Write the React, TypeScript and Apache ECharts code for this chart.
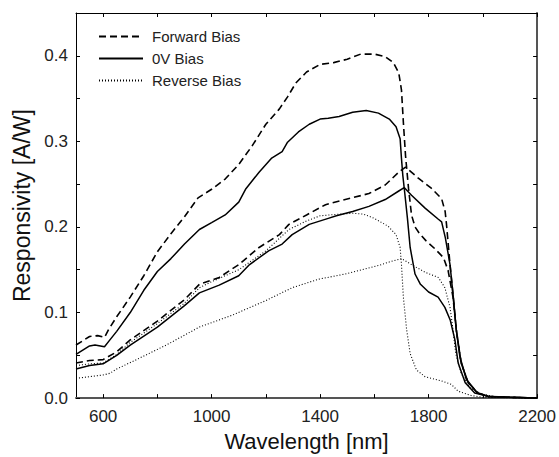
import React, { useEffect, useRef } from 'react';
import * as echarts from 'echarts';

// High-responsivity set
const hfWl = [500, 550, 580, 605, 620, 650, 700, 750, 800, 850, 900, 950, 1000, 1050, 1100, 1150, 1200, 1250, 1280, 1310, 1350, 1400, 1450, 1500, 1550, 1600, 1640, 1670, 1690, 1700, 1707, 1715, 1726, 1737, 1750, 1765, 1790, 1825, 1855, 1872, 1890, 1902, 1920, 1946, 1980, 2020, 2100, 2200];
const hfVal = [0.062, 0.072, 0.073, 0.071, 0.080, 0.095, 0.118, 0.143, 0.171, 0.192, 0.212, 0.234, 0.244, 0.256, 0.273, 0.295, 0.320, 0.338, 0.352, 0.368, 0.381, 0.390, 0.392, 0.396, 0.402, 0.402, 0.399, 0.392, 0.380, 0.360, 0.322, 0.283, 0.245, 0.214, 0.200, 0.193, 0.184, 0.174, 0.164, 0.149, 0.118, 0.080, 0.041, 0.018, 0.006, 0.002, 0.001, 0.0];

const hsWl = [500, 550, 570, 605, 625, 650, 700, 750, 800, 850, 900, 955, 1000, 1050, 1100, 1125, 1175, 1220, 1260, 1280, 1320, 1360, 1400, 1430, 1470, 1520, 1570, 1615, 1655, 1680, 1695, 1700, 1705, 1712, 1722, 1732, 1750, 1770, 1800, 1835, 1860, 1880, 1897, 1909, 1935, 1970, 2020, 2100, 2200];
const hsVal = [0.051, 0.061, 0.062, 0.060, 0.068, 0.078, 0.100, 0.126, 0.148, 0.163, 0.180, 0.197, 0.205, 0.214, 0.229, 0.244, 0.264, 0.280, 0.288, 0.299, 0.311, 0.320, 0.326, 0.327, 0.329, 0.334, 0.336, 0.333, 0.326, 0.317, 0.303, 0.280, 0.260, 0.240, 0.210, 0.176, 0.145, 0.133, 0.124, 0.118, 0.106, 0.091, 0.068, 0.041, 0.018, 0.006, 0.002, 0.001, 0.0];

const hrWl = [500, 550, 600, 650, 700, 800, 900, 955, 1000, 1100, 1200, 1285, 1350, 1400, 1470, 1520, 1560, 1600, 1650, 1680, 1695, 1700, 1707, 1719, 1732, 1755, 1787, 1848, 1884, 1909, 1957, 2000, 2200];
const hrVal = [0.038, 0.040, 0.041, 0.051, 0.065, 0.087, 0.111, 0.129, 0.136, 0.150, 0.172, 0.197, 0.207, 0.213, 0.215, 0.216, 0.215, 0.210, 0.201, 0.191, 0.176, 0.156, 0.118, 0.080, 0.052, 0.033, 0.025, 0.020, 0.016, 0.008, 0.003, 0.001, 0.0];

// Low-responsivity set
const lfWl = [500, 550, 600, 650, 700, 800, 900, 955, 1028, 1100, 1175, 1250, 1285, 1350, 1420, 1443, 1517, 1580, 1640, 1690, 1715, 1762, 1811, 1848, 1861, 1866, 1879, 1891, 1902, 1920, 1946, 1982, 2020, 2100, 2200];
const lfVal = [0.041, 0.044, 0.045, 0.054, 0.068, 0.090, 0.115, 0.133, 0.141, 0.156, 0.176, 0.191, 0.203, 0.214, 0.226, 0.228, 0.234, 0.239, 0.249, 0.264, 0.270, 0.257, 0.245, 0.233, 0.218, 0.203, 0.156, 0.118, 0.080, 0.041, 0.018, 0.006, 0.002, 0.001, 0.0];

const lsWl = [500, 550, 600, 650, 700, 800, 900, 955, 1028, 1100, 1140, 1210, 1260, 1297, 1360, 1430, 1460, 1520, 1580, 1640, 1690, 1710, 1737, 1787, 1836, 1848, 1862, 1879, 1891, 1902, 1915, 1939, 1980, 2020, 2100, 2200];
const lsVal = [0.034, 0.038, 0.040, 0.050, 0.062, 0.083, 0.108, 0.123, 0.132, 0.143, 0.156, 0.172, 0.180, 0.191, 0.203, 0.210, 0.213, 0.218, 0.224, 0.232, 0.242, 0.246, 0.237, 0.222, 0.209, 0.206, 0.187, 0.156, 0.118, 0.080, 0.049, 0.022, 0.006, 0.002, 0.001, 0.0];

const lrWl = [500, 550, 600, 625, 650, 710, 833, 955, 1077, 1200, 1297, 1395, 1493, 1542, 1616, 1664, 1700, 1737, 1787, 1836, 1860, 1879, 1890, 1900, 1920, 1952, 1994, 2050, 2200];
const lrVal = [0.023, 0.025, 0.027, 0.029, 0.034, 0.043, 0.062, 0.083, 0.097, 0.114, 0.129, 0.139, 0.145, 0.149, 0.155, 0.160, 0.163, 0.156, 0.147, 0.141, 0.129, 0.106, 0.080, 0.052, 0.029, 0.012, 0.005, 0.001, 0.0];

const xLabelValues = [600, 1000, 1400, 1800, 2200];
const xTickValues = [600, 800, 1000, 1200, 1400, 1600, 1800, 2000, 2200];
const yLabelValues = [0, 0.1, 0.2, 0.3, 0.4];
const yTickValues = [0, 0.05, 0.1, 0.15, 0.2, 0.25, 0.3, 0.35, 0.4];
const legendNames = ['Forward Bias', '0V Bias', 'Reverse Bias'];

const FONT = '"Liberation Sans", Arial, sans-serif';

const zip = (xs: number[], ys: number[]) => xs.map((x, i) => [x, ys[i]]);

const styles: Record<string, any> = {
  'Forward Bias': { type: [7, 4], width: 1.6 },
  '0V Bias': { type: 'solid', width: 1.5 },
  'Reverse Bias': { type: [1, 2], width: 1.1 },
};

export default function App() {
  const ref = useRef<HTMLDivElement>(null);
  useEffect(() => {
    if (!ref.current) return;
    const chart = echarts.init(ref.current, undefined, { renderer: 'svg' });
    const mk = (name: string, xs: number[], ys: number[]) => ({
      type: 'line',
      name,
      data: zip(xs, ys),
      symbol: 'none',
      showSymbol: false,
      smooth: false,
      lineStyle: { color: '#000', ...styles[name] },
      itemStyle: { color: '#000' },
      xAxisIndex: 0,
      yAxisIndex: 0,
    });
    const tickStyle = { show: true, inside: true, length: 4, lineStyle: { color: '#000', width: 1 } };
    chart.setOption({
      animation: false,
      backgroundColor: '#fff',
      grid: { left: 76, top: 13, right: 20, bottom: 55, containLabel: false },
      legend: {
        data: legendNames,
        orient: 'vertical',
        left: 93,
        top: 24,
        itemWidth: 44,
        itemHeight: 8,
        itemGap: 7,
        itemStyle: { opacity: 0 },
        textStyle: { fontFamily: FONT, fontSize: 15, color: '#222', padding: [0, 0, 0, 4] },
      },
      xAxis: [
        {
          type: 'value',
          min: 500,
          max: 2200,
          position: 'bottom',
          name: 'Wavelength [nm]',
          nameLocation: 'middle',
          nameGap: 29,
          nameTextStyle: { fontFamily: FONT, fontSize: 22, color: '#111' },
          axisLine: { show: true, onZero: false, lineStyle: { color: '#555', width: 2 } },
          axisTick: { ...tickStyle, customValues: xTickValues },
          axisLabel: {
            customValues: xLabelValues,
            formatter: (v: number) => String(v),
            fontFamily: FONT,
            fontSize: 17,
            color: '#222',
            margin: 10,
          },
          splitLine: { show: false },
        },
        {
          type: 'value',
          min: 500,
          max: 2200,
          position: 'top',
          axisLine: { show: true, onZero: false, lineStyle: { color: '#000', width: 1 } },
          axisTick: { ...tickStyle, customValues: xTickValues },
          axisLabel: { show: false },
          splitLine: { show: false },
        },
      ],
      yAxis: [
        {
          type: 'value',
          min: 0,
          max: 0.45,
          position: 'left',
          name: 'Responsivity [A/W]',
          nameLocation: 'middle',
          nameGap: 43,
          nameTextStyle: { fontFamily: FONT, fontSize: 23, color: '#111' },
          axisLine: { show: true, onZero: false, lineStyle: { color: '#000', width: 1 } },
          axisTick: { ...tickStyle, customValues: yTickValues },
          axisLabel: {
            customValues: yLabelValues,
            formatter: (v: number) => v.toFixed(1),
            fontFamily: FONT,
            fontSize: 17,
            color: '#222',
            margin: 8,
          },
          splitLine: { show: false },
        },
        {
          type: 'value',
          min: 0,
          max: 0.45,
          position: 'right',
          axisLine: { show: true, onZero: false, lineStyle: { color: '#555', width: 2 } },
          axisTick: { ...tickStyle, customValues: yTickValues },
          axisLabel: { show: false },
          splitLine: { show: false },
        },
      ],
      series: [
        mk('Forward Bias', hfWl, hfVal),
        mk('0V Bias', hsWl, hsVal),
        mk('Reverse Bias', hrWl, hrVal),
        mk('Forward Bias', lfWl, lfVal),
        mk('0V Bias', lsWl, lsVal),
        mk('Reverse Bias', lrWl, lrVal),
      ],
    });
    return () => chart.dispose();
  }, []);
  return (
    <div
      ref={ref}
      style={{ position: 'fixed', left: 0, top: 0, width: 559, height: 457, background: '#fff' }}
    />
  );
}
